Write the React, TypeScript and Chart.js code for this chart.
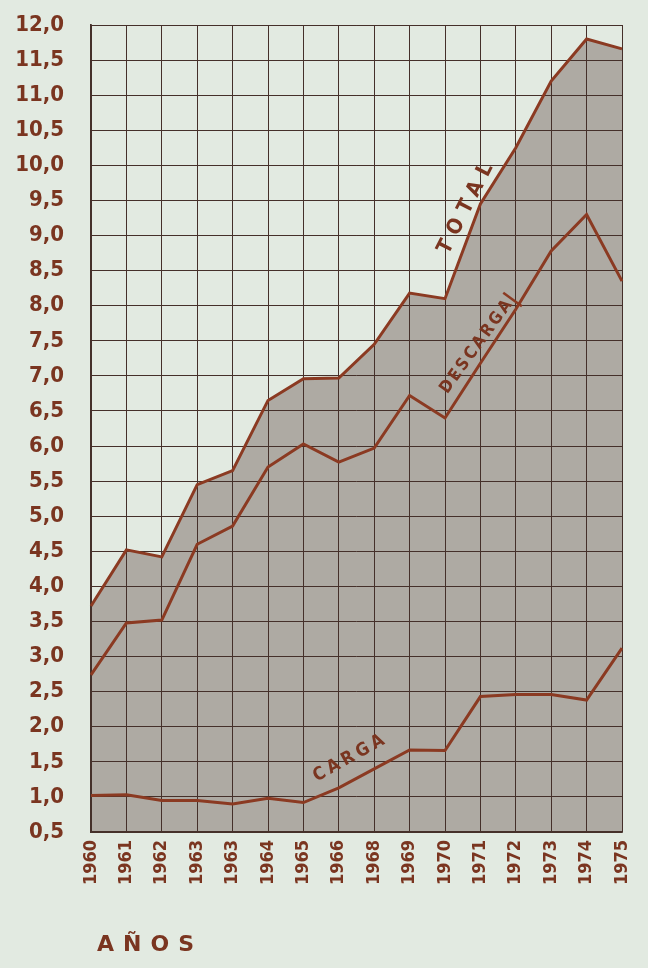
import React, { useEffect, useRef } from "react";
import { Chart, registerables } from "chart.js";

Chart.register(...registerables);

const years = ["1960", "1961", "1962", "1963", "1963", "1964", "1965", "1966", "1968", "1969", "1970", "1971", "1972", "1973", "1974", "1975"];
const totalValues = [3.72, 4.52, 4.42, 5.45, 5.65, 6.65, 6.96, 6.97, 7.45, 8.18, 8.1, 9.45, 10.25, 11.2, 11.8, 11.66];
const descargaValues = [2.74, 3.48, 3.52, 4.6, 4.86, 5.7, 6.03, 5.77, 5.97, 6.72, 6.4, 7.18, 7.95, 8.78, 9.3, 8.35];
const cargaValues = [1.02, 1.03, 0.95, 0.95, 0.9, 0.98, 0.92, 1.13, 1.4, 1.67, 1.66, 2.43, 2.46, 2.46, 2.38, 3.12];
const yMin = 0.5;
const yMax = 12;
const yStep = 0.5;

const BG = "#e2eae1";
const FILL = "#aeaaa3";
const LINE = "#8b3a22";
const GRID = "#45302a";
const TEXT = "#7a3520";
const FONT = "'DejaVu Sans Condensed', 'DejaVu Sans', sans-serif";
const FONT_WIDE = "'DejaVu Sans', sans-serif";

// labels placed in data coordinates (category index, value)
const lineLabels = [
  { text: "TOTAL", x: 10.56, y: 9.39, angle: -63, size: 21, spacing: 8, cap: false },
  { text: "DESCARGA", x: 10.86, y: 7.42, angle: -54, size: 17, spacing: 2.5, cap: true },
  { text: "CARGA", x: 7.27, y: 1.56, angle: -29, size: 18, spacing: 4, cap: false },
];

const FILL_INDEX = 3;

// draw the grid again right after the area fill, so it shows through the grey
const gridOverFill = {
  id: "gridOverFill",
  afterDatasetDraw(chart: any, args: any) {
    if (args.index !== FILL_INDEX) return;
    const area = chart.chartArea;
    for (const id of ["x", "y"]) {
      const s = chart.scales[id];
      s.drawGrid(area);
      s.drawBorder();
    }
  },
};

const labelPlugin = {
  id: "lineLabels",
  afterDatasetsDraw(chart: any) {
    const ctx = chart.ctx;
    const xs = chart.scales.x;
    const ys = chart.scales.y;
    for (const l of lineLabels) {
      const px = xs.getPixelForValue(l.x);
      const py = ys.getPixelForValue(l.y);
      ctx.save();
      ctx.translate(px, py);
      ctx.rotate((l.angle * Math.PI) / 180);
      ctx.font = `bold ${l.size}px ${FONT}`;
      (ctx as any).letterSpacing = `${l.spacing}px`;
      ctx.fillStyle = TEXT;
      ctx.textAlign = "center";
      ctx.textBaseline = "middle";
      const w = ctx.measureText(l.text).width;
      ctx.fillText(l.text, l.spacing / 2, 1);
      if (l.cap) {
        ctx.strokeStyle = LINE;
        ctx.lineWidth = 2.5;
        ctx.beginPath();
        ctx.moveTo(w / 2 + 3, 14);
        ctx.lineTo(w / 2 + 3, -9);
        ctx.stroke();
      }
      ctx.restore();
    }
  },
};

const lineStyle = {
  borderColor: LINE,
  borderWidth: 3,
  fill: false,
  pointRadius: 0,
  tension: 0,
};

export default function App() {
  const ref = useRef<HTMLCanvasElement>(null);

  useEffect(() => {
    if (!ref.current) return;
    const chart = new Chart(ref.current, {
      type: "line",
      data: {
        labels: years,
        datasets: [
          { label: "Total", data: totalValues, ...lineStyle },
          { label: "Descarga", data: descargaValues, ...lineStyle },
          { label: "Carga", data: cargaValues, ...lineStyle },
          {
            label: "Total (área)",
            data: totalValues,
            borderWidth: 0,
            borderColor: "rgba(0,0,0,0)",
            backgroundColor: FILL,
            fill: "origin",
            pointRadius: 0,
            tension: 0,
          },
        ],
      },
      options: {
        responsive: false,
        animation: false,
        devicePixelRatio: 1,
        layout: { padding: { left: 0, top: 25, right: 26, bottom: 0 } },
        plugins: {
          legend: { display: false },
          tooltip: { enabled: false },
        },
        scales: {
          x: {
            type: "category",
            offset: false,
            grid: { color: GRID, lineWidth: 1, drawTicks: false, offset: false },
            border: { color: GRID, width: 1.5 },
            ticks: {
              color: TEXT,
              font: { family: FONT, size: 18, weight: "bold" },
              minRotation: 90,
              maxRotation: 90,
              padding: 8,
              autoSkip: false,
            },
            afterFit: (s: any) => {
              s.height = 136;
              s.paddingLeft = 0;
              s.paddingRight = 0;
              s.paddingTop = 0;
              s.paddingBottom = 0;
            },
          },
          y: {
            min: yMin,
            max: yMax,
            grid: { color: GRID, lineWidth: 1, drawTicks: false },
            border: { color: GRID, width: 1.5 },
            ticks: {
              stepSize: yStep,
              color: TEXT,
              font: { family: FONT, size: 22, weight: "bold" },
              padding: 27,
              callback: (v: any) => Number(v).toFixed(1).replace(".", ","),
            },
            afterFit: (s: any) => {
              s.width = 91;
              s.paddingLeft = 0;
              s.paddingRight = 0;
              s.paddingTop = 0;
              s.paddingBottom = 0;
            },
          },
        },
      },
      plugins: [gridOverFill, labelPlugin],
    });
    return () => chart.destroy();
  }, []);

  return (
    <div style={{ position: "fixed", left: 0, top: 0, width: 648, height: 968, background: BG, overflow: "hidden" }}>
      <canvas ref={ref} width={648} height={968} style={{ display: "block" }} />
      <div
        style={{
          position: "absolute",
          left: 97,
          top: 931,
          fontFamily: FONT_WIDE,
          fontWeight: "bold",
          fontSize: 22,
          letterSpacing: 9,
          color: TEXT,
          lineHeight: "26px",
        }}
      >
        AÑOS
      </div>
    </div>
  );
}
